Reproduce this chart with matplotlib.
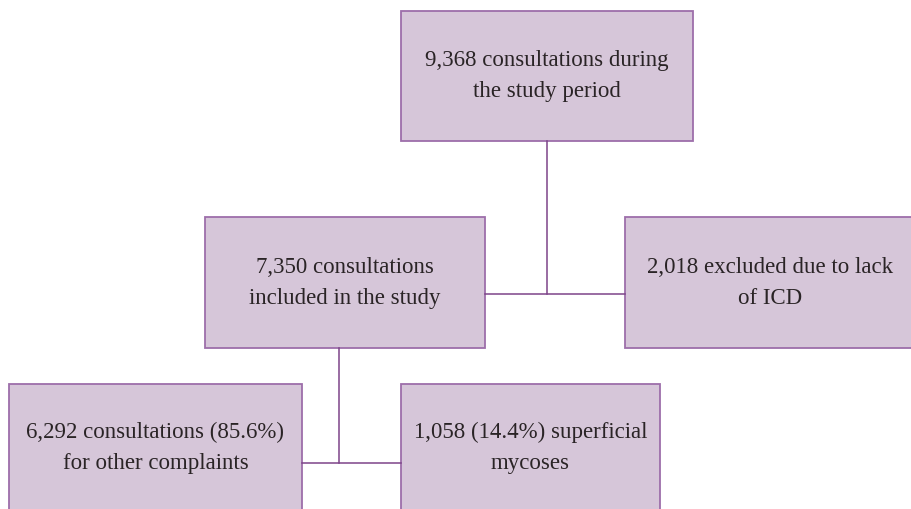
import matplotlib.pyplot as plt
from matplotlib.patches import Rectangle

# box texts, in flow order
labels = [
    "9,368 consultations during\nthe study period",
    "7,350 consultations\nincluded in the study",
    "2,018 excluded due to lack\nof ICD",
    "6,292 consultations (85.6%)\nfor other complaints",
    "1,058 (14.4%) superficial\nmycoses",
]

# box geometry in pixel space: (left, top, right, bottom)
boxes = [
    (401, 11, 693, 141),
    (205, 217, 485, 348),
    (625, 217, 915, 348),
    (9, 384, 302, 520),
    (401, 384, 660, 520),
]

fill = "#d6c6d9"
edge = "#9d6eaa"
line = "#7d4489"

fig = plt.figure(figsize=(9.12, 5.09), dpi=100)
ax = fig.add_axes([0, 0, 1, 1])
ax.set_xlim(0, 912)
ax.set_ylim(509, 0)
ax.axis("off")

# connectors
ax.plot([547, 547], [141, 294], color=line, lw=1.1)
ax.plot([485, 625], [294, 294], color=line, lw=1.1)
ax.plot([339, 339], [348, 463], color=line, lw=1.1)
ax.plot([302, 401], [463, 463], color=line, lw=1.1)

text_y = [76, 283, 283, 448, 448]
for (l, t, r, b), txt, ty in zip(boxes, labels, text_y):
    ax.add_patch(Rectangle((l, t), r - l, b - t, facecolor=fill, edgecolor=edge, lw=1.3))
    ax.text((l + r) / 2, ty, txt, ha="center", va="center", fontsize=16.5,
            family="Liberation Serif", color="#2a2426", linespacing=1.6)

fig.savefig("out.png", dpi=100)
